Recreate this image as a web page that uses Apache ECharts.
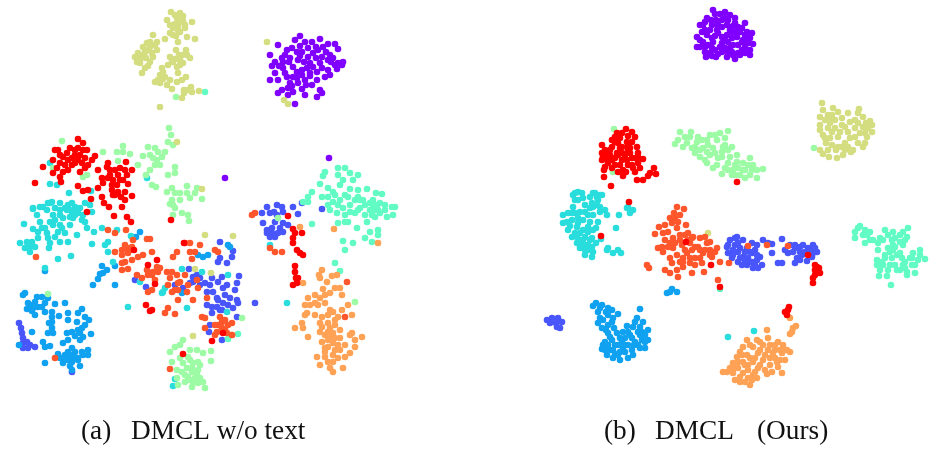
<!DOCTYPE html>
<html><head><meta charset="utf-8">
<style>html,body{margin:0;padding:0;background:#fff}#c{width:934px;height:449px}</style>
<script src="https://cdn.jsdelivr.net/npm/echarts@6/dist/echarts.min.js"></script></head>
<body><div id="c"></div>
<script>
const classNames=['purple','indigo','blue','cyan','mint','green','khaki','orange','vermilion','red'];
const classColors=['#8000ff','#4856fb','#10a2f0','#2adddd','#62fbc4','#9cfba4','#d4dd80','#ffa256','#ff562c','#ff0000'];
const labelsA=['(a)','DMCL w/o text'];
const labelsB=['(b)','DMCL','(Ours)'];

// Panel (a): flat x,y lists
const aPurple=[300,36,305,42,312,42,320,39,328,44,335,44,338,49,278,45,295,40,292,48,287,50,270,55,302,52,313,53,323,47,330,55,322,57,338,63,342,65,335,65,337,69,328,70,320,63,310,63,298,60,290,58,282,58,275,62,272,66,283,68,293,67,302,70,307,68,317,72,325,77,275,73,278,80,270,80,287,77,293,77,302,75,310,76,317,80,290,83,298,83,305,80,312,85,320,90,282,90,278,93,293,92,288,95,302,89,305,95,317,97,295,104,322,93,300,46,316,47,326,52,333,58,308,57,297,52,289,62,279,66,297,72,313,67,322,68,331,62,285,73,292,86,304,62,316,58,225,178,329,158,285,55,300,56,308,48,318,50,328,60,310,73,297,78,283,62,330,75,343,62,306,85,288,88];
const aIndigo=[19,323,21,328,22,333,23,338,23,343,27,342,23,348,30,345,35,347,28,348,72,372,302,203,277,205,282,207,293,207,267,207,262,213,270,213,277,215,283,212,298,214,322,209,263,223,283,223,288,225,267,230,272,233,278,233,283,232,275,237,267,233,220,242,233,251,232,257,220,258,218,262,227,263,189,269,239,276,212,278,222,277,218,282,193,277,200,285,210,285,227,285,237,283,223,288,235,290,207,292,213,292,175,285,146,287,135,280,183,288,217,298,230,298,237,300,223,303,207,305,238,303,212,307,217,307,220,310,233,308,212,313,237,317,210,325,209,332,222,340,255,303,193,282,190,283,197,275,275,222,280,228,272,228,270,237,274,212,218,300,222,310,228,305,225,295,205,283,200,278];
const aBlue=[25,293,23,295,37,297,42,297,48,298,55,304,65,303,28,303,35,302,27,309,33,308,42,307,35,315,45,312,52,312,52,317,59,316,68,313,82,309,78,313,68,320,85,317,89,320,77,322,49,323,52,328,32,332,48,333,53,333,67,333,78,330,82,328,91,334,83,337,75,336,63,343,68,340,80,340,43,342,45,347,50,346,19,345,72,348,88,350,58,354,65,355,73,357,83,355,88,355,60,358,68,360,78,360,63,363,45,363,70,366,80,366,72,370,102,266,107,270,103,273,100,274,98,279,93,285,115,285,115,266,140,232,136,237,228,245,230,247,208,255,203,257,198,255,182,293,45,271,30,305,38,307,32,311,45,303,82,352,75,352,68,352,78,358,72,362,70,355,62,358,52,322,72,332,80,333,85,325];
const aCyan=[50,163,50,184,57,185,69,193,91,191,52,202,48,203,40,207,33,208,60,203,72,203,85,203,90,205,147,178,33,209,43,207,50,203,68,205,72,212,67,210,78,213,83,215,92,212,37,215,47,210,53,215,63,218,73,218,82,220,87,228,94,232,102,228,24,224,33,229,42,228,53,225,50,222,62,228,47,233,55,237,65,233,77,235,38,238,60,242,50,243,68,242,20,243,27,242,32,242,25,248,30,252,35,247,49,248,58,259,71,256,92,244,108,242,105,245,108,252,113,262,45,268,128,307,163,292,165,288,162,293,187,308,202,272,228,275,227,312,287,303,270,245,182,269,117,230,131,236,140,282,175,379,173,386,70,217,60,210,75,207,55,208,80,208,40,222,58,232,70,225,85,222,65,208,70,210,75,215,60,215,78,210,60,225,45,228,38,232,28,245,30,247,55,220,48,238];
const aMint=[205,92,338,168,345,168,350,173,325,172,323,176,338,175,343,180,320,184,353,180,328,188,333,192,350,189,358,190,367,189,376,193,382,194,312,192,308,197,322,197,328,197,348,197,358,197,373,200,392,207,395,207,303,202,333,202,340,200,363,200,380,203,358,175,308,202,328,205,337,213,345,215,355,213,360,208,370,210,377,205,380,213,387,217,393,215,338,223,348,222,357,228,367,222,375,217,312,224,370,232,378,230,378,235,365,238,372,242,343,241,353,243,345,250,335,263,340,271,238,334,228,339,360,200,350,205,365,205,375,210,343,208,385,210,340,185,335,195,355,200,370,203,378,210,372,215,358,210,350,212,365,215,385,205,345,195,338,205,330,210,345,222,373,205];
const aGreen=[169,128,171,135,168,142,173,145,148,147,155,148,158,152,143,156,150,155,162,157,157,160,160,165,150,170,175,167,168,175,175,173,146,175,152,185,156,187,123,146,117,152,123,152,130,154,103,152,118,161,138,165,62,141,83,177,87,175,53,168,187,186,172,188,175,193,180,193,187,193,197,188,195,193,167,192,190,198,202,199,172,200,180,200,173,205,170,204,175,208,173,215,182,213,188,215,189,221,183,340,180,345,175,347,170,352,190,350,197,350,203,353,211,351,211,361,188,357,198,362,172,362,183,363,193,363,200,365,177,370,187,368,192,372,182,372,197,375,188,377,203,382,193,382,198,383,192,387,205,388,177,378,185,382,178,385,242,318,355,302,278,218,48,294,176,97,192,368,198,370,190,380,185,375,195,378,200,378,190,360,180,358,165,152,155,165,153,158];
const aKhaki=[171,12,180,13,183,16,167,20,192,22,175,24,183,21,177,18,173,28,185,28,180,32,170,33,176,36,165,39,187,37,195,39,178,42,176,50,153,35,157,42,147,43,143,47,157,50,148,50,138,53,135,57,143,55,153,57,150,62,140,63,137,62,145,68,142,73,186,50,182,55,190,58,170,57,175,59,168,65,177,67,183,63,162,68,160,75,165,77,155,82,160,83,167,85,163,79,177,82,182,80,186,77,172,89,184,90,182,98,191,87,192,92,199,91,160,107,284,100,288,104,267,42,175,15,180,22,173,35,178,30,150,47,152,53,146,58,141,58,148,66,180,60,187,55,172,62,179,55,163,72,158,80,170,80,184,93,188,90,205,235,233,236,195,269,211,273,193,336,202,189,177,142,185,25,178,27,170,25,150,42,145,52,155,45,173,62,180,65,178,73,162,75];
const aOrange=[322,270,319,275,337,275,332,276,320,278,327,282,340,288,335,288,323,289,315,295,308,298,320,298,330,293,342,295,305,305,315,303,325,303,348,305,333,312,342,310,307,313,315,315,322,317,338,317,352,315,305,315,320,323,302,323,295,328,303,328,328,323,335,325,340,330,308,337,320,332,328,332,333,333,352,333,362,337,355,340,350,335,355,347,340,338,330,338,322,342,333,343,328,347,325,348,340,350,350,353,345,357,333,355,317,357,325,357,338,358,328,362,343,368,320,365,330,368,333,372,300,227,334,229,378,243,303,283,232,335,325,295,318,305,330,310,328,315,310,305,325,335,335,338,328,340,338,345,345,345,333,362,325,352,335,350,322,327,330,328,335,320];
const aVermilion=[150,239,133,240,147,239,132,247,127,248,122,250,115,252,128,253,122,255,143,255,152,252,138,257,125,262,122,263,132,260,128,269,122,270,108,230,115,233,126,230,36,257,55,358,255,213,252,215,270,248,275,252,282,252,147,270,153,272,158,272,137,275,142,278,148,275,167,272,172,272,177,275,185,275,152,290,148,292,168,285,175,290,172,292,178,300,193,300,168,308,165,313,175,314,197,280,185,243,190,243,200,245,195,252,190,252,177,252,173,257,215,250,218,252,192,259,180,282,207,298,202,317,205,318,205,328,220,317,222,322,228,325,222,328,217,332,232,323,215,335,232,335,227,333,347,282,345,317,187,292,170,278,157,267,160,268,198,288,170,369,125,245,130,250,152,275,155,280,178,283,188,285,178,290,225,320,218,325,215,325,225,330];
const aRed=[78,139,83,143,55,150,58,150,78,148,87,150,67,153,63,157,75,155,95,156,92,160,53,160,43,167,68,160,82,163,65,165,57,168,75,163,88,165,80,172,63,172,53,173,60,177,35,183,61,182,72,158,80,155,60,163,85,158,126,162,108,163,107,167,115,170,125,170,132,170,98,170,110,175,118,175,127,175,102,178,113,180,123,180,103,183,78,186,117,185,128,184,88,190,83,191,98,188,112,190,118,192,125,192,102,197,132,196,115,195,125,200,104,203,109,207,122,207,91,199,87,212,114,216,127,217,131,222,171,220,134,250,184,243,157,260,148,265,155,284,146,305,150,311,152,310,223,333,212,341,288,216,293,229,295,233,293,238,293,243,297,250,302,233,300,253,303,255,295,266,295,272,296,278,298,278,297,283,293,285,183,354,70,148,75,150,83,150,60,155,72,165,78,160,68,170,85,168,110,170,120,168,112,185,120,180,108,178,113,195,121,197];

// Panel (b): flat x,y lists
const bPurple=[713,10,725,12,730,15,715,14,735,18,707,18,722,20,745,23,700,25,712,25,727,25,738,27,702,32,717,30,732,32,747,32,752,33,697,37,707,35,722,37,737,37,743,40,703,42,713,42,728,42,750,38,753,44,697,47,708,45,720,47,733,45,745,47,705,52,712,56,718,54,728,52,738,53,750,55,706,57,735,59,742,50,716,20,725,18,733,26,710,30,722,27,740,32,727,35,715,36,703,25,732,52,745,40,712,48,722,43,742,42,720,14,728,20,735,23,742,28,705,22,711,20,718,25,730,30,736,32,745,35,700,40,705,30,712,38,718,33,725,40,732,38,738,45,748,43,750,50,700,47,705,47,715,50,725,48,730,48,740,55,745,53,710,53,716,57,722,52,733,55,727,57];
const bIndigo=[547,320,552,318,558,318,550,323,556,323,560,328,557,327,562,322,737,237,730,240,743,240,752,243,727,247,757,245,735,245,747,248,728,253,738,252,752,253,760,257,732,258,743,257,757,260,738,262,747,265,762,265,753,268,758,268,748,258,763,240,772,244,768,243,772,253,782,239,778,263,782,263,790,245,795,245,813,245,788,253,800,247,808,248,817,252,793,252,802,255,813,253,797,258,795,263,807,261,812,257,738,243,745,252,733,250,750,262,735,238,740,248,733,255,740,258,750,252,755,250,757,255,742,265,752,262,755,265,728,245,735,252,745,260,800,252,805,252,795,248,810,250,800,260,785,250,803,245,815,248];
const bBlue=[667,293,672,289,677,292,670,292,596,303,593,306,602,305,608,308,598,312,608,315,618,314,640,309,613,318,637,318,643,322,598,323,608,325,602,328,627,326,633,327,648,330,608,333,617,333,623,332,638,332,645,335,648,340,605,342,612,340,625,338,632,338,642,340,618,345,628,345,638,345,645,348,602,349,610,350,623,348,632,350,607,355,615,354,633,355,613,358,620,360,628,358,612,322,625,345,640,327,600,318,608,345,620,352,635,342,600,308,606,312,612,310,603,320,606,330,614,328,620,338,610,337,605,350,615,345,625,352,618,355,640,335,645,342,640,348,630,335,628,332,622,342,634,345,613,350,603,345,635,322,642,332];
const bCyan=[578,192,573,195,582,193,593,193,600,195,597,197,575,193,595,193,602,195,598,200,592,203,573,207,590,208,600,207,568,213,580,212,593,215,607,215,563,215,572,220,583,220,598,222,619,215,563,223,577,227,588,227,568,230,580,233,593,230,572,237,585,237,592,238,577,243,585,245,592,247,580,248,588,250,585,255,593,252,601,239,616,228,608,248,607,250,613,253,618,250,621,253,628,207,633,210,630,213,627,208,728,337,754,331,575,200,585,205,588,215,578,218,583,230,572,213,590,240,580,240,578,200,590,197,597,205,605,210,585,212,575,213,567,222,570,226,578,223,590,222,596,228,588,232,575,233,583,240,588,245,596,243,580,244,585,250,592,257,577,237,600,212,593,207,583,198];
const bMint=[860,226,855,232,865,230,870,232,855,238,863,235,885,230,893,232,908,228,900,235,873,240,883,240,892,240,907,237,865,243,903,245,878,250,895,247,890,252,900,253,920,250,913,253,877,260,892,258,902,258,925,259,918,260,883,265,895,265,912,265,877,265,888,270,900,270,907,272,915,273,879,276,887,276,907,275,891,285,893,245,897,255,905,262,885,258,910,258,720,289,858,228,867,235,880,238,888,235,895,238,903,232,905,240,900,242,893,250,888,248,885,255,882,262,890,265,903,265,897,270,905,268,880,270,915,265,920,255,912,258,870,240,878,243];
const bGreen=[680,132,691,132,690,137,698,137,728,131,720,133,710,135,675,144,678,140,687,143,697,142,707,140,717,140,725,138,732,147,723,147,695,153,703,148,713,148,700,157,710,155,722,157,737,155,730,157,707,163,717,165,728,163,737,162,750,158,743,163,753,165,713,168,733,170,743,170,757,170,763,169,722,174,732,175,740,175,750,175,757,178,614,129,613,172,814,148,685,137,695,147,702,140,708,145,715,135,725,145,700,150,707,152,715,153,718,158,705,160,728,150,722,152,735,165,738,168,745,170,748,165,752,170,725,168,728,170,692,148,735,175,745,178,683,147];
const bKhaki=[822,103,823,110,833,108,838,112,859,109,820,117,828,115,848,113,863,117,870,121,820,125,830,123,842,125,855,120,863,127,872,132,823,135,832,132,848,132,860,133,867,137,825,138,838,137,845,143,855,137,865,143,832,145,842,147,853,150,863,147,820,150,828,150,823,154,843,155,837,158,829,157,851,152,835,120,845,127,855,128,828,128,838,147,850,122,708,233,825,120,832,115,842,118,858,113,866,123,858,123,872,125,865,133,868,128,835,128,840,132,850,138,858,143,830,138,826,143,836,150,848,147,830,118,820,130,845,150];
const bOrange=[790,318,796,326,792,332,790,334,793,328,767,330,757,340,747,340,768,338,778,342,743,347,753,347,763,345,770,345,783,345,787,350,790,352,737,357,747,355,758,353,773,353,782,353,733,363,743,362,753,362,763,360,777,362,785,360,727,372,738,368,748,370,758,368,778,367,782,373,733,373,743,373,753,375,767,374,735,380,745,382,750,385,757,378,723,372,760,350,770,358,750,358,740,377,745,365,775,350,750,345,760,342,768,350,775,345,780,350,740,352,755,358,765,355,775,358,742,355,748,365,735,368,760,365,770,365,780,360,785,350,752,380,740,382,730,368,765,370,755,372,748,378,772,372,738,362];
const bVermilion=[677,207,684,209,674,213,670,218,680,215,659,227,672,223,686,225,663,233,677,228,655,234,668,232,685,235,673,238,693,237,700,238,670,243,658,248,682,245,690,243,707,243,663,252,673,248,698,247,717,248,710,250,677,255,687,253,703,253,683,258,695,258,712,257,690,263,702,263,647,265,649,268,683,267,677,270,670,273,678,277,692,273,704,272,720,262,729,263,718,280,748,246,767,245,788,246,665,225,688,240,700,250,680,235,695,247,710,242,670,258,690,258,675,218,678,222,665,240,675,243,685,250,692,250,705,250,710,255,700,258,695,265,683,262,672,263,665,270,680,240,688,233,705,237,715,252,680,262,692,238,662,247,668,247];
const bRed=[626,129,632,132,617,133,635,137,620,138,615,142,627,142,602,145,612,147,637,147,620,148,630,148,602,153,608,153,617,153,625,155,638,153,643,159,602,160,612,160,622,160,632,158,605,167,628,165,638,163,615,165,623,170,635,172,604,170,623,176,654,168,656,174,650,173,643,180,637,180,604,177,611,186,737,182,612,140,622,147,628,150,610,155,618,143,605,150,632,165,618,172,629,202,601,236,686,242,711,265,720,287,808,255,815,270,818,272,815,275,820,273,813,278,813,283,817,267,789,307,788,310,785,312,787,315,622,133,628,136,615,137,632,142,610,150,622,153,630,153,635,158,606,158,615,158,627,160,608,163,620,165,633,168,640,168,612,168,618,155,603,157,638,157,626,172,648,176,628,146,816,272,815,265,819,268];

const panelA=[aPurple,aIndigo,aBlue,aCyan,aMint,aGreen,aKhaki,aOrange,aVermilion,aRed];
const panelB=[bPurple,bIndigo,bBlue,bCyan,bMint,bGreen,bKhaki,bOrange,bVermilion,bRed];

function pairs(f){const o=[];for(let i=0;i<f.length;i+=2)o.push([f[i],f[i+1]]);return o;}
function scatter(list,ax,tag){return list.map((f,i)=>({name:tag+classNames[i],type:'scatter',xAxisIndex:ax,yAxisIndex:ax,data:pairs(f),symbol:'circle',symbolSize:6.6,silent:true,itemStyle:{color:classColors[i],opacity:1},emphasis:{disabled:true},animation:false}));}
const hidden={show:false,scale:false};
function caption(text,x){return {type:'text',x:x,y:418,style:{text:text,font:'27.3px "Liberation Serif"',fill:'#111'}};}
const chart=echarts.init(document.getElementById('c'),null,{renderer:'canvas'});
chart.setOption({
 backgroundColor:'#fff',animation:false,tooltip:{show:false},legend:{show:false},
 grid:[{left:0,top:0,width:467,height:449},{left:467,top:0,width:467,height:449}],
 xAxis:[{type:'value',min:0,max:467,...hidden,gridIndex:0},{type:'value',min:467,max:934,...hidden,gridIndex:1}],
 yAxis:[{type:'value',min:0,max:449,inverse:true,...hidden,gridIndex:0},{type:'value',min:0,max:449,inverse:true,...hidden,gridIndex:1}],
 series:[...scatter(panelA,0,'a-'),...scatter(panelB,1,'b-')],
 graphic:[caption(labelsA[0],81),caption(labelsA[1],131),caption(labelsB[0],604),caption(labelsB[1],655),caption(labelsB[2],757)]
});
</script></body></html>
